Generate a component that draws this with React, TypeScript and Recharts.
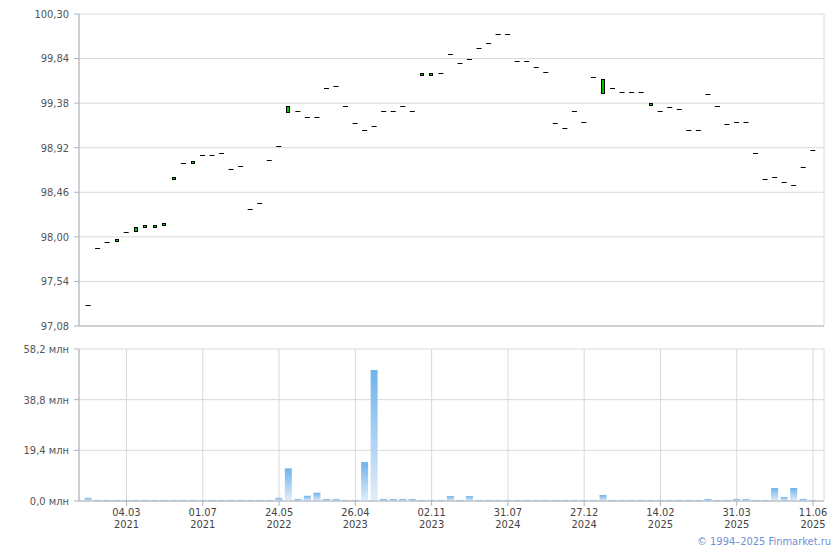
import React from 'react';
import { ComposedChart, Bar, XAxis, YAxis, CartesianGrid } from 'recharts';

// one candle per period, index 0..76
const closes = [
  97.30, 97.89, 97.95, 97.98, 98.05, 98.10, 98.12, 98.12, 98.14, 98.62,
  98.76, 98.78, 98.84, 98.84, 98.87, 98.70, 98.73, 98.29, 98.35, 98.79,
  98.94, 99.35, 99.30, 99.24, 99.24, 99.54, 99.56, 99.35, 99.18, 99.10,
  99.14, 99.30, 99.30, 99.35, 99.30, 99.69, 99.69, 99.69, 99.89, 99.79,
  99.84, 99.95, 100.00, 100.09, 100.09, 99.82, 99.82, 99.75, 99.70, 99.18,
  99.12, 99.30, 99.19, 99.65, 99.63, 99.54, 99.49, 99.49, 99.49, 99.38,
  99.30, 99.34, 99.32, 99.10, 99.10, 99.47, 99.35, 99.16, 99.19, 99.19,
  98.87, 98.60, 98.62, 98.57, 98.54, 98.72, 98.90,
];
const opens = [
  97.30, 97.89, 97.95, 97.96, 98.05, 98.06, 98.10, 98.10, 98.12, 98.60,
  98.76, 98.76, 98.84, 98.84, 98.87, 98.70, 98.73, 98.29, 98.35, 98.79,
  98.94, 99.29, 99.30, 99.24, 99.24, 99.54, 99.56, 99.35, 99.18, 99.10,
  99.14, 99.30, 99.30, 99.35, 99.30, 99.67, 99.67, 99.69, 99.89, 99.79,
  99.84, 99.95, 100.00, 100.09, 100.09, 99.82, 99.82, 99.75, 99.70, 99.18,
  99.12, 99.30, 99.19, 99.65, 99.49, 99.54, 99.49, 99.49, 99.49, 99.36,
  99.30, 99.34, 99.32, 99.10, 99.10, 99.47, 99.35, 99.16, 99.19, 99.19,
  98.87, 98.60, 98.62, 98.57, 98.54, 98.72, 98.90,
];
// volume, млн
const volumes = [
  1.2, 0.4, 0.4, 0.4, 0.4, 0.4, 0.4, 0.4, 0.4, 0.4,
  0.4, 0.4, 0.4, 0.4, 0.4, 0.4, 0.4, 0.4, 0.4, 0.4,
  1.2, 12.5, 0.8, 2.0, 3.2, 0.8, 0.8, 0.4, 0.4, 14.9,
  50.2, 0.8, 0.8, 0.8, 0.8, 0.4, 0.4, 0.4, 1.9, 0.4,
  1.9, 0.4, 0.4, 0.4, 0.4, 0.4, 0.4, 0.4, 0.4, 0.4,
  0.4, 0.4, 0.4, 0.4, 2.3, 0.4, 0.4, 0.4, 0.4, 0.4,
  0.4, 0.4, 0.4, 0.4, 0.4, 0.8, 0.4, 0.4, 0.8, 0.8,
  0.4, 0.4, 5.0, 1.5, 5.0, 0.8, 0.4,
];

const tickIndex = [4, 12, 20, 28, 36, 44, 52, 60, 68, 76];
const tickDay = ['04.03', '01.07', '24.05', '26.04', '02.11', '31.07', '27.12', '14.02', '31.03', '11.06'];
const tickYear = ['2021', '2021', '2022', '2023', '2023', '2024', '2024', '2025', '2025', '2025'];

const priceTicks = [97.08, 97.54, 98.0, 98.46, 98.92, 99.38, 99.84, 100.3];
const volTicks = [0, 19.4, 38.8, 58.2];

const data = closes.map((c, i) => ({
  i,
  open: opens[i],
  close: c,
  body: [Math.min(opens[i], c), Math.max(opens[i], c)],
  vol: volumes[i],
}));

const FONT = '"DejaVu Sans Condensed", "Liberation Sans", sans-serif';
const GRID = '#d6dadf';
const AXIS = '#aeb3bb';
const xDomain = [-0.98, 77.15];

const fmt = (v: number, d: number) => v.toFixed(d).replace('.', ',');

function Candle(props: any) {
  const { x, y, width, height, payload } = props;
  const cx = x + width / 2;
  if (payload.open === payload.close) {
    const yy = Math.round(y) + 0.5;
    return <line x1={cx - 2.5} x2={cx + 2.5} y1={yy} y2={yy} stroke="#000" strokeWidth={1} />;
  }
  const h = Math.max(height, 2);
  return (
    <rect x={Math.round(cx - 2) + 0.5} y={Math.round(y) + 0.5} width={3} height={Math.round(h)}
      fill="#00c400" stroke="#000" strokeWidth={1} />
  );
}

function DateTick({ x, y, payload }: any) {
  const k = tickIndex.indexOf(payload.value);
  return (
    <text x={x} y={y} textAnchor="middle" fill="#444" fontSize={11} fontFamily={FONT}>
      <tspan x={x} dy="0.75em">{tickDay[k]}</tspan>
      <tspan x={x} dy="12">{tickYear[k]}</tspan>
    </text>
  );
}

export default function App() {
  return (
    <div style={{ position: 'absolute', left: 0, top: 0, width: 840, height: 550, background: '#fff' }}>
      <div style={{ position: 'absolute', left: 0, top: 0 }}>
        <ComposedChart width={840} height={340} data={data} margin={{ top: 14, right: 16, left: 0, bottom: 0 }}>
          <CartesianGrid stroke={GRID} verticalPoints={undefined} />
          <XAxis dataKey="i" type="number" domain={xDomain} ticks={tickIndex} allowDataOverflow
            height={14} tick={false} tickSize={5} stroke={AXIS} />
          <YAxis type="number" domain={[97.08, 100.3]} ticks={priceTicks} allowDataOverflow width={79}
            tickSize={5} tickMargin={5} stroke={AXIS}
            tick={{ fill: '#555', fontSize: 11, fontFamily: FONT }}
            tickFormatter={(v) => fmt(v, 2)} />
          <Bar dataKey="body" barSize={5} shape={Candle} isAnimationActive={false} />
        </ComposedChart>
      </div>
      <div style={{ position: 'absolute', left: 0, top: 340 }}>
        <ComposedChart width={840} height={210} data={data} margin={{ top: 9, right: 16, left: 0, bottom: 0 }}>
          <defs>
            <linearGradient id="volGrad" x1="0" y1="0" x2="0" y2="1">
              <stop offset="0%" stopColor="#6fb3ec" />
              <stop offset="100%" stopColor="#e2edf9" />
            </linearGradient>
          </defs>
          <CartesianGrid stroke={GRID} />
          <XAxis dataKey="i" type="number" domain={xDomain} ticks={tickIndex} allowDataOverflow
            height={49} tickSize={5} tickMargin={2} stroke={AXIS} tick={<DateTick />} />
          <YAxis type="number" domain={[0, 58.2]} ticks={volTicks} allowDataOverflow width={79}
            tickSize={5} tickMargin={5} stroke={AXIS}
            tick={{ fill: '#555', fontSize: 11, fontFamily: FONT }}
            tickFormatter={(v) => `${fmt(v, 1)} млн`} />
          <Bar dataKey="vol" barSize={7} fill="url(#volGrad)" isAnimationActive={false} />
        </ComposedChart>
      </div>
      <div style={{ position: 'absolute', right: 9, top: 535, color: '#6f8fd8', fontSize: 11, fontFamily: FONT }}>
        © 1994–2025 Finmarket.ru
      </div>
    </div>
  );
}
